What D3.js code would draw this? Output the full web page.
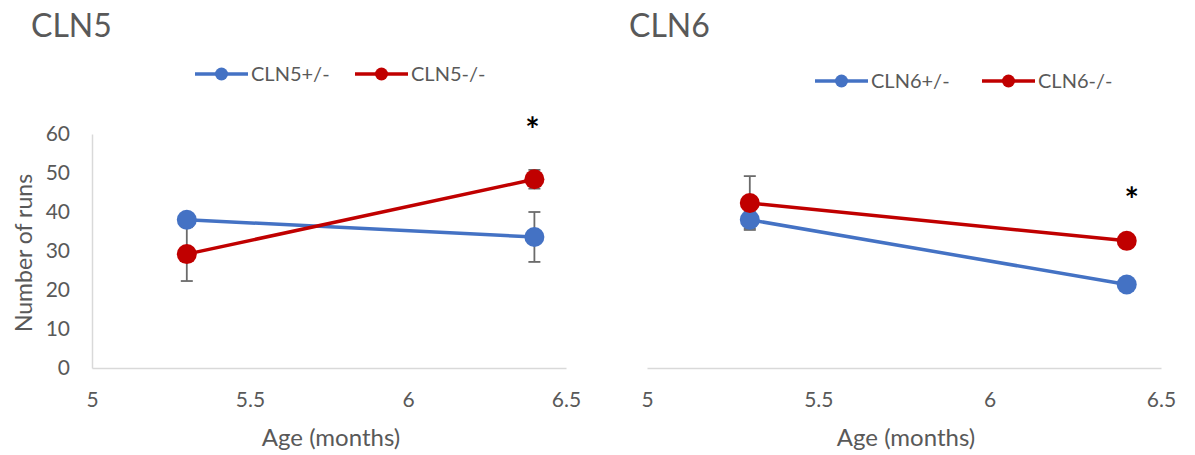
<!DOCTYPE html>
<html>
<head>
<meta charset="utf-8">
<script src="https://cdn.jsdelivr.net/npm/d3@7/dist/d3.min.js"></script>
<style>
  html, body { margin: 0; padding: 0; background: #fff; }
  svg { display: block; font-family: Lato, "Open Sans", sans-serif; }
</style>
</head>
<body>
<svg id="chart" width="1195" height="455"></svg>
<script>
// Age points (months)
const ages = [5.3, 6.4];

// CLN5 panel: mean number of runs and error
const cln5Het = [38, 33.6];
const cln5HetErr = [1.5, 6.4];
const cln5KO = [29.2, 48.4];
const cln5KOErr = [6.9, 2.4];

// CLN6 panel
const cln6Het = [38, 21.4];
const cln6HetErr = [2.2, 1.2];
const cln6KO = [42.3, 32.6];
const cln6KOErr = [6.9, 1.5];

const xTicks = [5, 5.5, 6, 6.5];
const yTicks = [0, 10, 20, 30, 40, 50, 60];

const BLUE = "#4472C4", RED = "#C00000", TEXT = "#595959", AXIS = "#d9d9d9";

const svg = d3.select("#chart");

const panels = [
  {
    title: "CLN5", titleX: 31, xRange: [92, 566], showY: true,
    legendX: [195, 355], legendY: 74,
    series: [
      { name: "CLN5+/-", color: BLUE, values: cln5Het, err: cln5HetErr },
      { name: "CLN5-/-", color: RED, values: cln5KO, err: cln5KOErr }
    ],
    star: { x: 6.4, y: 123, dx: -2 }
  },
  {
    title: "CLN6", titleX: 629, xRange: [647, 1161], showY: false,
    legendX: [815, 982], legendY: 81,
    series: [
      { name: "CLN6+/-", color: BLUE, values: cln6Het, err: cln6HetErr },
      { name: "CLN6-/-", color: RED, values: cln6KO, err: cln6KOErr }
    ],
    star: { x: 6.4, y: 193, dx: 5 }
  }
];

const y = d3.scaleLinear().domain([0, 60]).range([368, 134]);

panels.forEach(p => {
  const x = d3.scaleLinear().domain([5, 6.5]).range(p.xRange);
  const g = svg.append("g");

  // Panel title
  g.append("text").attr("x", p.titleX).attr("y", 37)
    .attr("font-size", 32).attr("fill", TEXT).text(p.title);

  // x axis
  const xAxis = g.append("g").attr("transform", `translate(0,${y(0)})`)
    .call(d3.axisBottom(x).tickValues(xTicks).tickSize(0).tickPadding(24)
      .tickFormat(d3.format("")));
  xAxis.select(".domain").attr("stroke", AXIS).attr("stroke-width", 1.5);
  xAxis.selectAll("text").attr("font-size", 21).attr("fill", TEXT)
    .attr("font-family", "Lato, sans-serif");

  // y axis
  const yAxis = g.append("g").attr("transform", `translate(${p.xRange[0]},0)`)
    .call(d3.axisLeft(y).tickValues(yTicks).tickSize(0).tickPadding(22));
  yAxis.selectAll("text").attr("font-size", 21).attr("fill", TEXT)
    .attr("font-family", "Lato, sans-serif");
  if (p.showY) {
    yAxis.select(".domain").attr("stroke", AXIS).attr("stroke-width", 1.5);
  } else {
    yAxis.select(".domain").remove();
    yAxis.selectAll("text").remove();
  }

  // Axis titles
  g.append("text")
    .attr("x", (p.xRange[0] + p.xRange[1]) / 2 + 2).attr("y", 446)
    .attr("text-anchor", "middle").attr("font-size", 24).attr("fill", TEXT)
    .text("Age (months)");
  if (p.showY) {
    g.append("text")
      .attr("transform", `translate(32,${y(30) + 2}) rotate(-90)`)
      .attr("text-anchor", "middle").attr("font-size", 23).attr("fill", TEXT)
      .text("Number of runs");
  }

  const line = d3.line().x((d, i) => x(ages[i])).y(d => y(d));

  // Error bars first, then lines and markers on top
  p.series.forEach(s => {
    const eb = g.append("g").attr("stroke", "#6b6b6b").attr("stroke-width", 1.8);
    s.values.forEach((v, i) => {
      const cx = x(ages[i]);
      eb.append("line").attr("x1", cx).attr("x2", cx)
        .attr("y1", y(v - s.err[i])).attr("y2", y(v + s.err[i]));
      [v - s.err[i], v + s.err[i]].forEach(e => {
        eb.append("line").attr("x1", cx - 6).attr("x2", cx + 6)
          .attr("y1", y(e)).attr("y2", y(e));
      });
    });
  });

  p.series.forEach(s => {
    g.append("path").datum(s.values).attr("d", line)
      .attr("fill", "none").attr("stroke", s.color).attr("stroke-width", 3.5);
    g.selectAll(null).data(s.values).enter().append("circle")
      .attr("cx", (d, i) => x(ages[i])).attr("cy", d => y(d))
      .attr("r", 10).attr("fill", s.color);
  });

  // Significance marker
  g.append("text").attr("x", x(p.star.x) + p.star.dx).attr("y", p.star.y + 19)
    .attr("text-anchor", "middle").attr("font-size", 34).attr("font-weight", "bold")
    .attr("fill", "#000").text("*");

  // Legend
  p.series.forEach((s, i) => {
    const lx = p.legendX[i], ly = p.legendY;
    g.append("line").attr("x1", lx).attr("x2", lx + 53).attr("y1", ly).attr("y2", ly)
      .attr("stroke", s.color).attr("stroke-width", 3.5);
    g.append("circle").attr("cx", lx + 26.5).attr("cy", ly).attr("r", 6.5).attr("fill", s.color);
    g.append("text").attr("x", lx + 56).attr("y", ly + 7)
      .attr("font-size", 20).attr("fill", TEXT).text(s.name);
  });
});
</script>
</body>
</html>
